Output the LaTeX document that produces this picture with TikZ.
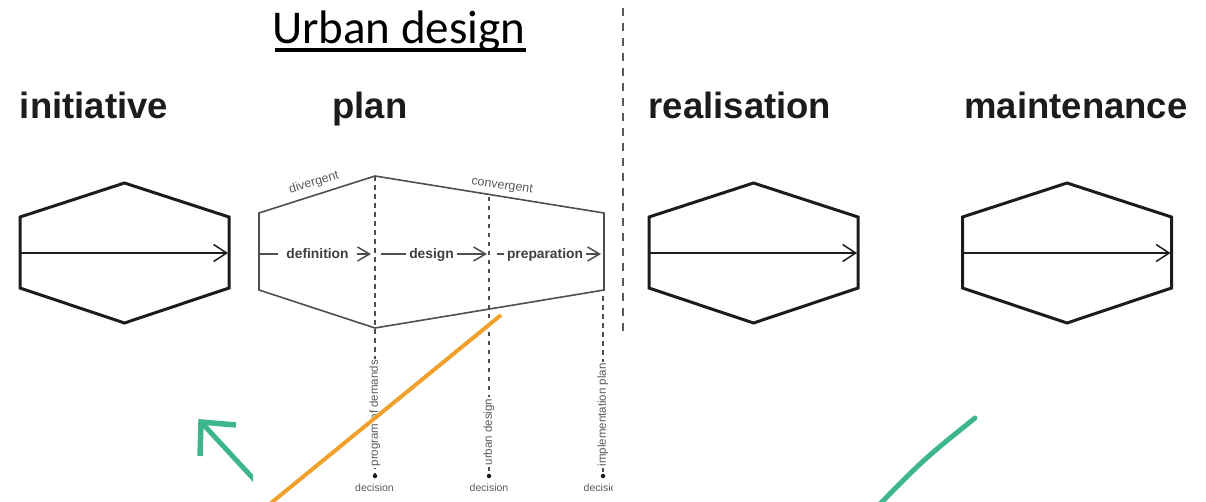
\documentclass[tikz,border=0pt]{standalone}
\usepackage{fontspec}
\setmainfont{Liberation Sans}
\newfontfamily\carl{Carlito}
\usetikzlibrary{arrows.meta,calc}
\definecolor{tealg}{HTML}{3DB68E}
\definecolor{orng}{HTML}{F0A02C}
\definecolor{dk}{HTML}{1C1C1C}
\definecolor{gr}{HTML}{4E4E4E}
\definecolor{lg}{HTML}{5A5A5A}
\tikzset{
  title/.style={font=\fontsize{36.5}{40}\selectfont\bfseries, text=dk, inner sep=0pt, anchor=base},
  hexline/.style={draw=dk, line width=3pt, line join=miter},
  inarrow/.style={draw=dk, line width=1.5pt, -{Straight Barb[length=13pt,width=17pt]}},
  planline/.style={draw=gr, line width=1.6pt, line join=miter},
  pline/.style={draw=gr, line width=1.5pt},
  parrow/.style={draw=gr, line width=1.5pt, -{Straight Barb[length=12pt,width=14pt]}},
  ptext/.style={font=\fontsize{13.8}{15}\selectfont\bfseries, text=dk!85, inner ysep=0pt, inner xsep=3pt, anchor=base},
  vdash/.style={draw=gr, line width=1.4pt, dash pattern=on 4.5pt off 4.5pt},
  vlab/.style={font=\fontsize{11.5}{13}\selectfont, text=lg, fill=white, inner sep=1.5pt, rotate=90, anchor=west},
  declab/.style={font=\fontsize{10.5}{12}\selectfont, text=lg, inner sep=0pt},
  slab/.style={font=\fontsize{12.5}{14}\selectfont, text=lg, inner sep=0pt},
  decdot/.style={circle, fill=dk, inner sep=0pt, minimum size=4.5pt},
  sepline/.style={draw=lg, line width=1.5pt, dash pattern=on 8pt off 7pt},
  hexa/.pic={
    \draw[hexline] (-104.5,-36) -- (0,-70) -- (104.5,-36) -- (104.5,35) -- (0,70) -- (-104.5,35) -- cycle;
    \draw[inarrow] (-104.5,0) -- (103.5,0);
  }
}
\begin{document}
\begin{tikzpicture}[x=1pt,y=-1pt]
\useasboundingbox (0,0) rectangle (1206,501);
\clip (0,0) rectangle (1206,501);

% titles
\node[anchor=base west, font=\carl\fontsize{47}{50}\selectfont, inner sep=0pt, text=black] (ud) at (272,43) {Urban design};
\draw[line width=3.5pt] ($(ud.base west)+(3,7)$) -- ($(ud.base east)+(0,7)$);
\node[title] (tini) at (94,118) {initiative};
\node[title] (tplan) at (370,118) {plan};
\node[title] (treal) at (740,118) {realisation};
\node[title] (tmain) at (1076,118) {maintenance};

% separator
\coordinate (s1) at (623,8);
\coordinate (s2) at (623,335);
\draw[sepline] (s1) -- (s2);

% hexagons
\pic at (124.5,253) {hexa};
\pic at (753.5,253) {hexa};
\pic at (1067,253) {hexa};

% plan shape
\draw[planline] (259,213) -- (375,176) -- (604,213) -- (604,290) -- (375,328) -- (259,290) -- cycle;

% dashed decision lines
\coordinate (t1) at (375,176);
\coordinate (t2) at (489,196.5);
\coordinate (t3) at (603,296);
\coordinate (d1) at (375,476);
\coordinate (d2) at (489,476);
\coordinate (d3) at (603,476);
\draw[vdash] (t1) -- (d1);
\draw[vdash] (t2) -- (d2);
\draw[vdash] (t3) -- (d3);
\node[decdot] (o1) at (d1) {};
\node[decdot] (o2) at (d2) {};
\node[decdot] (o3) at (d3) {};
\node[vlab] (l1) at (375,468) {program of demands};
\node[vlab] (l2) at (489,467) {urban design};
\node[vlab] (l3) at (603,468) {implementation plan};
\node[declab] (c1) at (374.5,488) {decision};
\node[declab] (c2) at (489,488) {decision};
\begin{scope}
\clip (0,0) rectangle (612,501);
\node[declab] (c3) at (603,488) {decision};
\end{scope}

% slope labels
\node[slab, rotate=17] (ldiv) at (314,183) {divergent};
\node[slab, rotate=-8] (lcon) at (502,186) {convergent};

% arrow row in plan
\coordinate (a0) at (259,254);
\coordinate (a1) at (371,254);
\coordinate (b0) at (381,254);
\coordinate (a2) at (487,254);
\coordinate (e0) at (497,254);
\coordinate (a3) at (601,254);
\node[ptext, inner xsep=8pt] (pdef) at (317.5,258.5) {definition};
\node[ptext] (pdes) at (431.5,258.5) {design};
\node[ptext] (pprep) at (545,258.5) {preparation};
\draw[pline] (a0) -- (pdef.west |- a0);
\draw[parrow] (pdef.east |- a0) -- (a1);
\draw[pline] (b0) -- (pdes.west |- b0);
\draw[parrow] (pdes.east |- b0) -- (a2);
\draw[pline] (e0) -- (pprep.west |- e0);
\draw[parrow] (pprep.east |- e0) -- (a3);

% orange line
\coordinate (or1) at (501,315);
\coordinate (or2) at (271,503);
\draw[orng, line width=4pt] (or1) -- (or2);

% green arrow (left)
\coordinate (gtip) at (201,422);
\coordinate (gtail) at (262,488);
\coordinate (garm1) at (236,425);
\coordinate (garm2) at (200,456);
\begin{scope}
\clip (0,0) rectangle (253,501);
\draw[tealg, line width=5pt] (gtip) -- (gtail);
\end{scope}
\draw[tealg, line width=5.5pt, line join=miter] (garm1) -- (gtip) -- (garm2);

% green arc (right)
\coordinate (gc1) at (975,418);
\coordinate (gc2) at (876,508);
\draw[tealg, line width=5pt, line cap=round] (gc1) .. controls (924,459) .. (gc2);
\end{tikzpicture}
\end{document}
